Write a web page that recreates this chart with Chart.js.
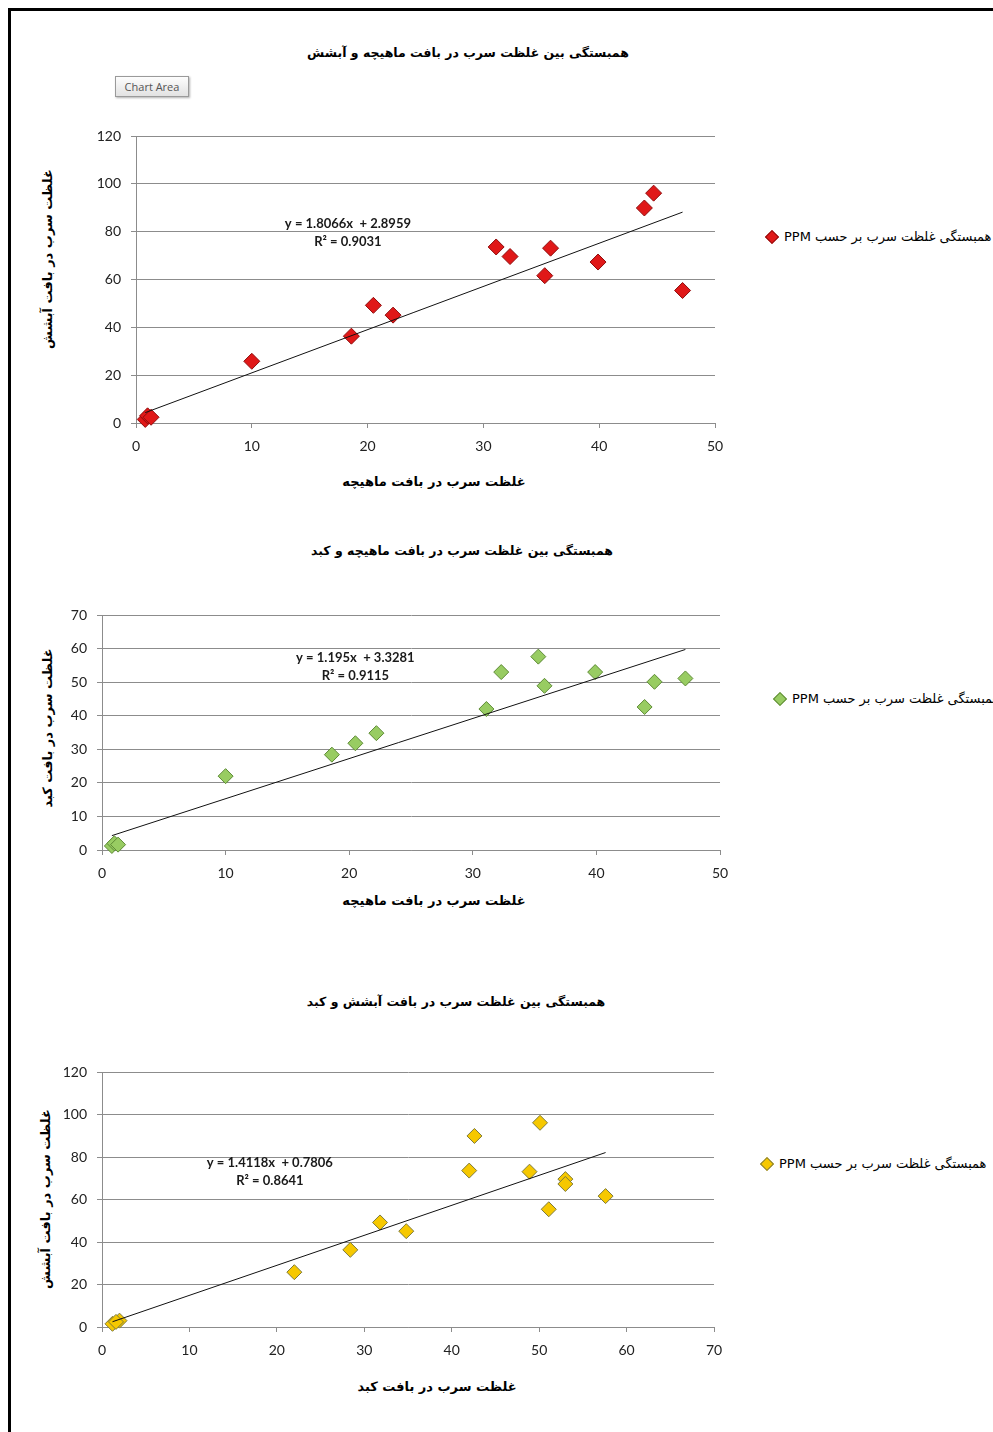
<!DOCTYPE html>
<html>
<head>
<meta charset="utf-8">
<script src="https://cdn.jsdelivr.net/npm/chart.js@4.4.1/dist/chart.umd.min.js"></script>
<style>
  body { margin: 0; background: #fff; width: 993px; height: 1432px; position: relative; overflow: hidden; }
  .frame { position: absolute; left: 8px; top: 8px; right: -10px; bottom: -10px; border-left: 3px solid #000; border-top: 3px solid #000; }
  canvas { position: absolute; left: 0; }
  .title { position: absolute; transform: translate(-50%, -50%); white-space: nowrap; font-family: "DejaVu Sans"; font-weight: bold; font-size: 12.5px; color: #000; direction: rtl; }
  .axt { position: absolute; transform: translate(-50%, -50%); white-space: nowrap; font-family: "DejaVu Sans"; font-weight: bold; font-size: 13px; color: #000; direction: rtl; }
  .axt.v { transform: translate(-50%, -50%) rotate(-90deg); }
  .legend { position: absolute; display: flex; align-items: center; white-space: nowrap; font-family: "DejaVu Sans"; font-size: 13px; color: #000; }
  .legend .mark { width: 8px; height: 8px; transform: rotate(45deg); margin-right: 7px; border: 1px solid; }
  .legend span.txt { direction: rtl; unicode-bidi: embed; }
  .btn { position: absolute; left: 115px; top: 76px; width: 72px; height: 19px; border: 1px solid #9a9a9a; background: linear-gradient(#fdfdfd, #e2e2e2); box-shadow: 1px 1px 2px #b0b0b0; font-family: "Open Sans"; font-size: 11px; color: #555; text-align: center; line-height: 19px; }
</style>
</head>
<body>
<div class="frame"></div>
<div class="btn">Chart Area</div>

<div class="title" style="left:468px; top:52px;">همبستگی بین غلظت سرب در بافت ماهیچه و آبشش</div>
<div class="title" style="left:462px; top:550px;">همبستگی بین غلظت سرب در بافت ماهیچه و کبد</div>
<div class="title" style="left:456px; top:1001px;">همبستگی بین غلظت سرب در بافت آبشش و کبد</div>

<div class="axt" style="left:434px; top:481px;">غلظت سرب در بافت ماهیچه</div>
<div class="axt v" style="left:47px; top:259px;">غلظت سرب در بافت آبشش</div>
<div class="axt" style="left:434px; top:900px;">غلظت سرب در بافت ماهیچه</div>
<div class="axt v" style="left:47px; top:728px;">غلظت سرب در بافت کبد</div>
<div class="axt" style="left:437px; top:1386px;">غلظت سرب در بافت کبد</div>
<div class="axt v" style="left:45px; top:1199px;">غلظت سرب در بافت آبشش</div>

<div class="legend" style="left:767px; top:229px;"><div class="mark" style="background:#e01818;border-color:#8e0c0c"></div><span class="txt">همبستگی غلظت سرب بر حسب PPM</span></div>
<div class="legend" style="left:775px; top:691px;"><div class="mark" style="background:#98cc62;border-color:#5d8a35"></div><span class="txt">همبستگی غلظت سرب بر حسب PPM</span></div>
<div class="legend" style="left:762px; top:1156px;"><div class="mark" style="background:#f6c800;border-color:#7d7a3c"></div><span class="txt">همبستگی غلظت سرب بر حسب PPM</span></div>

<canvas id="chart1" width="740" height="400" style="top:110px"></canvas>
<canvas id="chart2" width="740" height="340" style="top:590px"></canvas>
<canvas id="chart3" width="740" height="387" style="top:1045px"></canvas>

<script>
// lead (PPM) per sample
const muscleValues = [0.8, 1.0, 1.3, 10.0, 18.6, 20.5, 22.2, 31.1, 32.3, 35.3, 35.8, 39.9, 43.9, 44.7, 47.2];
const gillValues   = [1.5, 3.0, 2.4, 25.8, 36.3, 49.2, 45.1, 73.6, 69.6, 61.6, 73.1, 67.3, 89.9, 96.1, 55.4];
const liverValues  = [1.2, 2.0, 1.6, 22.0, 28.4, 31.8, 34.8, 42.0, 53.0, 57.6, 48.9, 53.0, 42.6, 50.1, 51.1];

// trendlines shown on the charts
const trendSlope = [1.8066, 1.195, 1.4118];
const trendIntercept = [2.8959, 3.3281, 0.7806];
const trendR2 = ['0.9031', '0.9115', '0.8641'];

// tick labels
const xTicks1 = [0, 10, 20, 30, 40, 50];
const yTicks1 = [0, 20, 40, 60, 80, 100, 120];
const xTicks2 = [0, 10, 20, 30, 40, 50];
const yTicks2 = [0, 10, 20, 30, 40, 50, 60, 70];
const xTicks3 = [0, 10, 20, 30, 40, 50, 60, 70];
const yTicks3 = [0, 20, 40, 60, 80, 100, 120];

const gridColor = '#8c8c8c';

const eqLabel = {
  id: 'eqLabel',
  afterDatasetsDraw(chart, args, opts) {
    const ctx = chart.ctx;
    const px = chart.scales.x.getPixelForValue(opts.x);
    const py = chart.scales.y.getPixelForValue(opts.y);
    ctx.save();
    ctx.font = 'bold 13px Lato';
    ctx.fillStyle = '#1a1a1a';
    ctx.textAlign = 'center';
    ctx.textBaseline = 'middle';
    opts.lines.forEach(function (t, i) { ctx.fillText(t, px, py + i * 18); });
    ctx.restore();
  }
};

function pairs(xs, ys) {
  return xs.map(function (v, i) { return { x: v, y: ys[i] }; });
}

function trendPoints(xs, k) {
  const lo = Math.min.apply(null, xs), hi = Math.max.apply(null, xs);
  return [lo, hi].map(function (v) { return { x: v, y: trendSlope[k] * v + trendIntercept[k] }; });
}

function make_chart(id, c) {
  const ctx = document.getElementById(id).getContext('2d');
  return new Chart(ctx, {
    type: 'scatter',
    data: {
      datasets: [{
        type: 'line',
        data: trendPoints(c.xs, c.k),
        borderColor: '#111',
        borderWidth: 1,
        pointRadius: 0,
        fill: false
      }, {
        data: pairs(c.xs, c.ys),
        pointStyle: 'rectRot',
        pointRadius: c.radius,
        pointHoverRadius: c.radius,
        backgroundColor: c.fill,
        borderColor: c.edge,
        borderWidth: 1,
        clip: false
      }]
    },
    options: {
      responsive: false,
      animation: false,
      layout: { padding: { top: c.top, right: c.right, left: 0, bottom: 0 } },
      plugins: {
        legend: { display: false },
        tooltip: { enabled: false },
        eqLabel: {
          x: c.eqX, y: c.eqY,
          lines: ['y = ' + trendSlope[c.k] + 'x  + ' + trendIntercept[c.k], 'R² = ' + trendR2[c.k]]
        }
      },
      scales: {
        x: {
          type: 'linear',
          min: c.xTicks[0], max: c.xTicks[c.xTicks.length - 1],
          afterBuildTicks: function (s) { s.ticks = c.xTicks.map(function (v) { return { value: v }; }); },
          afterFit: function (s) { s.height = c.xH; },
          grid: { drawOnChartArea: false, drawTicks: true, tickLength: 5, color: gridColor },
          border: { color: gridColor },
          ticks: { padding: 10, color: '#222', font: { family: 'Lato', size: 14 } }
        },
        y: {
          type: 'linear',
          min: c.yTicks[0], max: c.yTicks[c.yTicks.length - 1],
          afterBuildTicks: function (s) { s.ticks = c.yTicks.map(function (v) { return { value: v }; }); },
          afterFit: function (s) { s.width = c.yW; },
          grid: { drawTicks: true, tickLength: 5, color: gridColor },
          border: { color: gridColor },
          ticks: { padding: 10, color: '#222', font: { family: 'Lato', size: 14 } }
        }
      }
    },
    plugins: [eqLabel]
  });
}

make_chart('chart1', {
  k: 0, xs: muscleValues, ys: gillValues, xTicks: xTicks1, yTicks: yTicks1,
  fill: '#e01818', edge: '#8e0c0c', radius: 8,
  top: 26, right: 25, yW: 136, xH: 87,
  eqX: 18.3, eqY: 83.2
});

make_chart('chart2', {
  k: 1, xs: muscleValues, ys: liverValues, xTicks: xTicks2, yTicks: yTicks2,
  fill: '#98cc62', edge: '#5d8a35', radius: 7.5,
  top: 25, right: 20, yW: 102, xH: 80,
  eqX: 20.5, eqY: 57.3
});

make_chart('chart3', {
  k: 2, xs: liverValues, ys: gillValues, xTicks: xTicks3, yTicks: yTicks3,
  fill: '#f6c800', edge: '#7d7a3c', radius: 7.5,
  top: 27, right: 26, yW: 102, xH: 105,
  eqX: 19.2, eqY: 77.2
});
</script>
</body>
</html>
